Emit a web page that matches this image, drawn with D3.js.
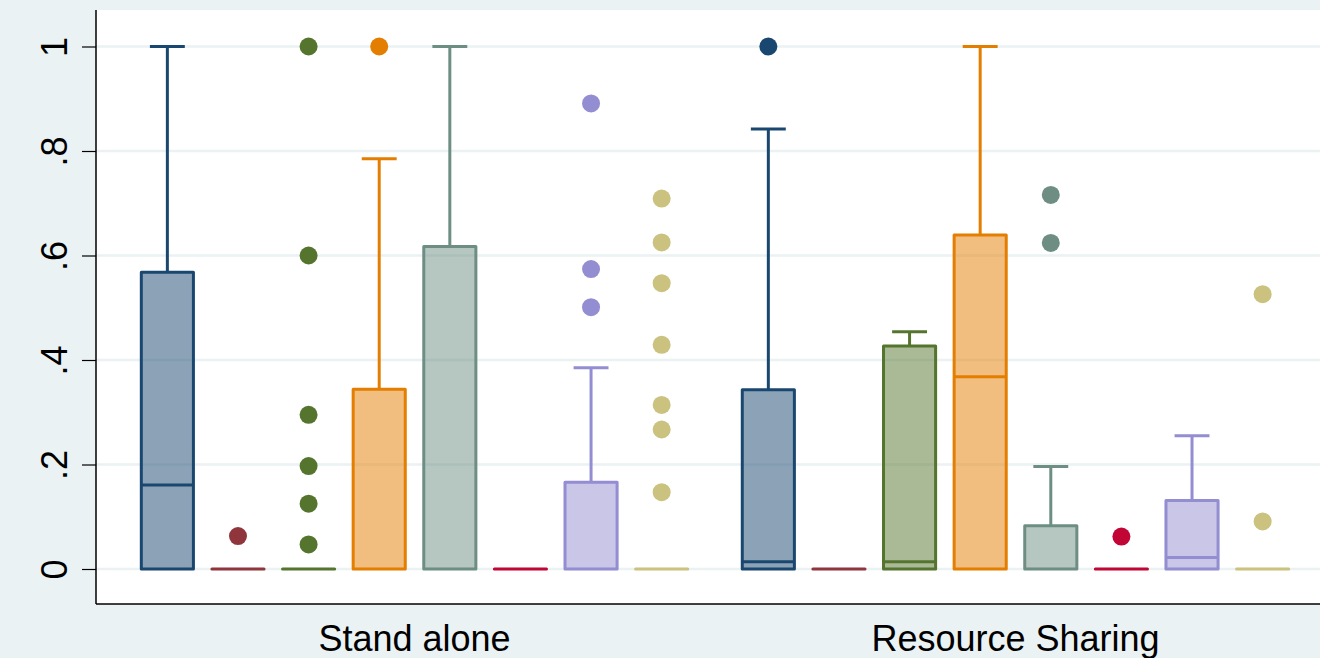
<!DOCTYPE html>
<html>
<head>
<meta charset="utf-8">
<script src="https://cdn.jsdelivr.net/npm/d3@7"></script>
<style>
  html, body { margin: 0; padding: 0; background: #eaf2f3; overflow: hidden; }
  svg { display: block; }
  text { font-family: "Liberation Sans", Arial, Helvetica, sans-serif; fill: #000; }
</style>
</head>
<body>
<svg id="chart" width="1320" height="658"></svg>
<script>
// Groups along the x axis
const groups = ["Stand alone", "Resource Sharing"];

// Series colours (s2color palette), one per box within each group
const seriesColors = ["#1a476f", "#90353b", "#55752f", "#e37e00",
                      "#6e8e84", "#c10534", "#938dd2", "#cac27e"];

// Y axis tick values and labels
const yTicks = [0, 0.2, 0.4, 0.6, 0.8, 1];
const yTickLabels = ["0", ".2", ".4", ".6", ".8", "1"];

// Stand alone: box statistics per series
const lowerStand  = [0, 0, 0, 0, 0, 0, 0, 0];
const q1Stand     = [0, 0, 0, 0, 0, 0, 0, 0];
const medianStand = [0.161, 0, 0, 0, 0, 0, 0, 0];
const q3Stand     = [0.568, 0, 0, 0.344, 0.617, 0, 0.166, 0];
const upperStand  = [1.0, 0, 0, 0.785, 1.0, 0, 0.385, 0];
const outliersStand = [
  [],
  [0.063],
  [1.0, 0.6, 0.295, 0.197, 0.125, 0.047],
  [1.0],
  [],
  [],
  [0.891, 0.574, 0.501],
  [0.709, 0.625, 0.547, 0.429, 0.314, 0.267, 0.147]
];

// Resource Sharing: box statistics per series
const lowerSharing  = [0, 0, 0, 0, 0, 0, 0, 0];
const q1Sharing     = [0, 0, 0, 0, 0, 0, 0, 0];
const medianSharing = [0.014, 0, 0.014, 0.368, 0, 0, 0.022, 0];
const q3Sharing     = [0.343, 0, 0.427, 0.639, 0.083, 0, 0.131, 0];
const upperSharing  = [0.842, 0, 0.454, 1.0, 0.196, 0, 0.255, 0];
const outliersSharing = [
  [1.0],
  [],
  [],
  [],
  [0.716, 0.624],
  [0.062],
  [],
  [0.526, 0.091]
];

// Assemble one record per box
const boxes = [];
const statSets = [
  [lowerStand, q1Stand, medianStand, q3Stand, upperStand, outliersStand],
  [lowerSharing, q1Sharing, medianSharing, q3Sharing, upperSharing, outliersSharing]
];
groups.forEach((g, gi) => {
  const [lo, q1, md, q3, hi, out] = statSets[gi];
  seriesColors.forEach((c, si) => {
    boxes.push({ group: g, series: si, color: c,
      lower: lo[si], q1: q1[si], median: md[si], q3: q3[si], upper: hi[si],
      outliers: out[si] });
  });
});

const svg = d3.select("#chart");
const W = 1320, H = 658;

// Plot region
const plot = { left: 96, top: 10, right: 1334, bottom: 604 };

const y = d3.scaleLinear().domain([0, 1]).range([569, 46.5]);

const xGroup = d3.scaleBand()
  .domain(groups)
  .range([plot.left, plot.right])
  .paddingInner(0.06)
  .paddingOuter(0.06);

const xSeries = d3.scaleBand()
  .domain(d3.range(seriesColors.length))
  .range([0, xGroup.bandwidth()])
  .paddingInner(0.262)
  .paddingOuter(0.131);

const bx = d => xGroup(d.group) + xSeries(d.series);
const bw = xSeries.bandwidth();
const cx = d => bx(d) + bw / 2;
const capW = bw * 0.67;

// Outer background
svg.append("rect").attr("width", W).attr("height", H).attr("fill", "#eaf2f3");

// Plot background
svg.append("rect")
  .attr("x", plot.left).attr("y", plot.top)
  .attr("width", plot.right - plot.left).attr("height", plot.bottom - plot.top)
  .attr("fill", "#ffffff");

// Horizontal gridlines
svg.append("g").selectAll("line")
  .data(yTicks)
  .join("line")
  .attr("x1", plot.left).attr("x2", plot.right)
  .attr("y1", d => y(d)).attr("y2", d => y(d))
  .attr("stroke", "#eaf2f3")
  .attr("stroke-width", 2.5);

// Whiskers with caps
const whisk = svg.append("g").attr("stroke-width", 3).attr("fill", "none");
boxes.forEach(d => {
  const g = whisk.append("g").attr("stroke", d.color);
  [[d.q3, d.upper], [d.q1, d.lower]].forEach(([from, to]) => {
    if (to === from) return;
    g.append("line").attr("x1", cx(d)).attr("x2", cx(d))
      .attr("y1", y(from)).attr("y2", y(to));
    g.append("line").attr("x1", cx(d) - capW / 2).attr("x2", cx(d) + capW / 2)
      .attr("y1", y(to)).attr("y2", y(to));
  });
});

// Boxes (a zero-height box draws as a flat line)
svg.append("g").selectAll("path.box")
  .data(boxes)
  .join("path")
  .attr("class", "box")
  .attr("d", d => {
    const x0 = bx(d), x1 = bx(d) + bw, y0 = y(d.q3), y1 = y(d.q1);
    return `M${x0},${y0}H${x1}V${y1}H${x0}Z`;
  })
  .attr("fill", d => d.color)
  .attr("fill-opacity", 0.5)
  .attr("stroke", d => d.color)
  .attr("stroke-width", 3)
  .attr("stroke-linejoin", "round");

// Medians
svg.append("g").selectAll("line.median")
  .data(boxes.filter(d => d.median > d.q1))
  .join("line")
  .attr("class", "median")
  .attr("x1", d => bx(d)).attr("x2", d => bx(d) + bw)
  .attr("y1", d => y(d.median)).attr("y2", d => y(d.median))
  .attr("stroke", d => d.color)
  .attr("stroke-width", 3);

// Outside values
const pts = boxes.flatMap(d => d.outliers.map(v => ({ box: d, v })));
svg.append("g").selectAll("circle")
  .data(pts)
  .join("circle")
  .attr("cx", p => cx(p.box))
  .attr("cy", p => y(p.v))
  .attr("r", 9)
  .attr("fill", p => p.box.color);

// Y axis
const yAxis = d3.axisLeft(y)
  .tickValues(yTicks)
  .tickFormat((d, i) => yTickLabels[i])
  .tickSize(14)
  .tickPadding(0);
const ya = svg.append("g")
  .attr("transform", `translate(${plot.left},0)`)
  .call(yAxis);
ya.select(".domain").remove();
ya.selectAll(".tick line").attr("stroke", "#000").attr("stroke-width", 1.2);
ya.selectAll(".tick text")
  .attr("x", null).attr("dy", null)
  .attr("transform", "translate(-29,0) rotate(-90)")
  .attr("text-anchor", "middle")
  .style("font-size", "36px")
  .style("font-family", '"Liberation Sans", Arial, Helvetica, sans-serif');

// Axis lines
svg.append("line")
  .attr("x1", plot.left).attr("x2", plot.left)
  .attr("y1", plot.top).attr("y2", plot.bottom)
  .attr("stroke", "#000").attr("stroke-width", 1.5);
svg.append("line")
  .attr("x1", plot.left).attr("x2", plot.right)
  .attr("y1", plot.bottom).attr("y2", plot.bottom)
  .attr("stroke", "#000").attr("stroke-width", 1.5);

// Group labels
svg.append("g").selectAll("text.group")
  .data(groups)
  .join("text")
  .attr("class", "group")
  .attr("x", d => xGroup(d) + xGroup.bandwidth() / 2)
  .attr("y", 651)
  .attr("text-anchor", "middle")
  .style("font-size", "36px")
  .text(d => d);
</script>
</body>
</html>
